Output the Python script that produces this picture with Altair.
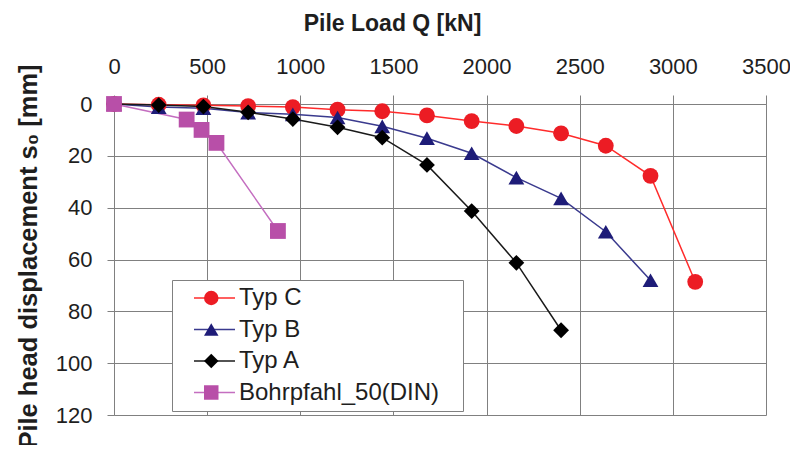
import altair as alt
import pandas as pd

# ---- data ----
series_names = ["Typ C", "Typ B", "Typ A", "Bohrpfahl_50(DIN)"]

typ_c_load = [0, 240, 480, 720, 960, 1200, 1440, 1680, 1920, 2160, 2400, 2640, 2880, 3120]
typ_c_disp = [0, 0.3, 0.5, 0.8, 1.2, 2.2, 2.8, 4.4, 6.6, 8.5, 11.3, 16.1, 27.7, 68.6]

typ_b_load = [0, 240, 480, 720, 960, 1200, 1440, 1680, 1920, 2160, 2400, 2640, 2880]
typ_b_disp = [0, 1.2, 1.6, 3.3, 4.0, 5.2, 8.6, 13.2, 19.0, 28.4, 36.4, 49.3, 68.0]

typ_a_load = [0, 240, 480, 720, 960, 1200, 1440, 1680, 1920, 2160, 2400]
typ_a_disp = [0, 0.4, 1.0, 3.2, 5.8, 9.0, 13.0, 23.5, 41.3, 61.3, 87.3]

bohr_load = [0, 390, 470, 550, 880]
bohr_disp = [0, 6, 10, 15, 49]

x_ticks = [0, 500, 1000, 1500, 2000, 2500, 3000, 3500]
y_ticks = [0, 20, 40, 60, 80, 100, 120]

marker_colors = ["#ec1c24", "#1e1c78", "#000000", "#b84fa8"]
line_colors = ["#ff2b2b", "#3a3a8e", "#1a1a1a", "#c46ec0"]
shapes = ["circle", "triangle-up", "diamond", "square"]
sizes = [250, 250, 280, 240]

rows = []
for name, loads, disps in zip(series_names,
                              [typ_c_load, typ_b_load, typ_a_load, bohr_load],
                              [typ_c_disp, typ_b_disp, typ_a_disp, bohr_disp]):
    for q, s in zip(loads, disps):
        rows.append({"series": name, "load": q, "disp": s})
df = pd.DataFrame(rows)

FONT = "Liberation Sans"
GRID = "#808080"
TXT = "#1e1e1e"

x_enc = alt.X(
    "load:Q",
    scale=alt.Scale(domain=[0, 3500], nice=False),
    axis=alt.Axis(
        orient="top", values=x_ticks, title="Pile Load Q [kN]", format="d",
        grid=True, gridColor=GRID, gridWidth=1, domainColor=GRID, tickColor=GRID,
        tickSize=9, labelPadding=22, labelBaseline="alphabetic", labelFlush=False,
        labelOverlap=False, labelFont=FONT, labelFontSize=22, labelColor=TXT,
        titleFont=FONT, titleFontSize=23, titleFontWeight="bold", titleColor=TXT,
        titleX=278, titleY=-74, titleBaseline="alphabetic", titleAlign="center",
    ),
)
y_enc = alt.Y(
    "disp:Q",
    scale=alt.Scale(domain=[0, 120], nice=False, reverse=True),
    axis=alt.Axis(
        orient="left", values=y_ticks, title="Pile head displacement s\u2080 [mm]",
        grid=True, gridColor=GRID, gridWidth=1, domainColor=GRID, tickColor=GRID,
        tickSize=7, labelPadding=15, labelFlush=False, labelOverlap=False,
        labelFont=FONT, labelFontSize=22, labelColor=TXT,
        titleFont=FONT, titleFontSize=25.5, titleFontWeight="bold", titleColor=TXT,
        titleAngle=270, titleX=-78, titleY=152, titleBaseline="alphabetic",
        titleAlign="center",
    ),
)

LEG_X = 58
LEG_Y = 176
LEG_PAD = 6
ROW_PAD = 7.5
# line symbol: custom path scaled by sqrt(64)/2 = 4
LINE_PATH = "M1,0H11.25"

lines = alt.Chart(df).mark_line(strokeWidth=1.5).encode(
    x=x_enc,
    y=y_enc,
    order=alt.Order("load:Q"),
    color=alt.Color(
        "series:N",
        scale=alt.Scale(domain=series_names, range=line_colors),
        legend=alt.Legend(
            orient="none", legendX=LEG_X, legendY=LEG_Y, title="\u2003",
            titleOrient="right", titleFontSize=22, titlePadding=18,
            symbolType=LINE_PATH, symbolSize=64, symbolStrokeWidth=1.5,
            labelFont=FONT, labelFontSize=24, labelColor=TXT, labelOffset=37,
            labelLimit=500, rowPadding=ROW_PAD, padding=LEG_PAD,
            strokeColor=GRID, fillColor="white",
        ),
    ),
)

pt_legend = alt.Legend(
    orient="none", legendX=LEG_X + 21.25, legendY=LEG_Y, title=None,
    symbolSize=210, symbolStrokeWidth=0, symbolOpacity=1,
    labelFont=FONT, labelFontSize=24, labelOpacity=0, labelOffset=6,
    labelLimit=500, rowPadding=ROW_PAD, padding=LEG_PAD,
)

points = alt.Chart(df).mark_point(filled=True, opacity=1).encode(
    x=alt.X("load:Q"),
    y=alt.Y("disp:Q"),
    color=alt.Color(
        "series:N",
        scale=alt.Scale(domain=series_names, range=marker_colors),
        legend=pt_legend,
    ),
    shape=alt.Shape(
        "series:N",
        scale=alt.Scale(domain=series_names, range=shapes),
        legend=pt_legend,
    ),
    size=alt.Size("series:N", scale=alt.Scale(domain=series_names, range=sizes), legend=None),
)

chart = (
    alt.layer(lines, points)
    .resolve_scale(color="independent", shape="independent")
    .resolve_legend(color="independent", shape="independent")
    .properties(
        width=652, height=311,
        autosize=alt.AutoSizeParams(type="none"),
        padding={"left": 106, "top": 96, "right": 24, "bottom": 30},
        background="white",
    )
    .configure_view(strokeWidth=0)
)

chart.save("out.html", embed_options={"renderer": "svg", "actions": False})
